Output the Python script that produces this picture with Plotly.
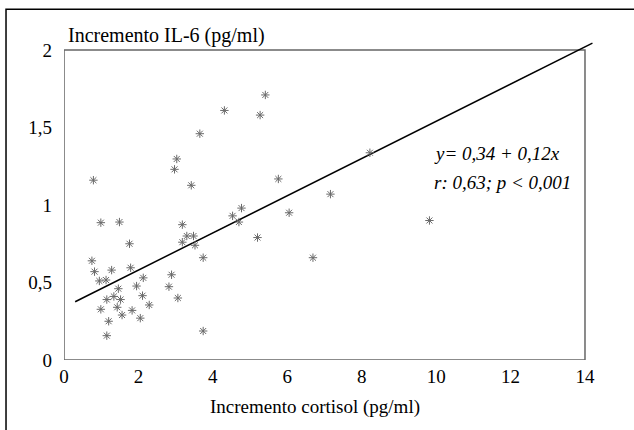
import plotly.graph_objects as go

cortisol = [0.79, 0.99, 1.49, 3.18, 3.30, 3.48, 3.18, 3.52, 1.76, 3.74,
            0.75, 0.82, 1.28, 1.79, 0.95, 1.13, 2.13, 2.89, 1.46, 1.95,
            2.82, 1.15, 1.34, 1.52, 2.11, 3.06, 2.29, 0.99, 1.43, 1.56,
            1.83, 2.05, 1.20, 1.15, 3.74, 5.41, 4.31, 5.27, 3.65, 3.03,
            2.97, 3.42, 5.76, 7.16, 4.77, 4.53, 4.70, 6.05, 5.20, 6.69,
            8.22, 9.82]
il6 = [1.16, 0.886, 0.89, 0.873, 0.80, 0.80, 0.76, 0.74, 0.75, 0.66,
       0.64, 0.57, 0.58, 0.595, 0.51, 0.516, 0.53, 0.55, 0.46, 0.477,
       0.473, 0.39, 0.41, 0.39, 0.415, 0.40, 0.355, 0.327, 0.34, 0.29,
       0.32, 0.27, 0.25, 0.157, 0.187, 1.71, 1.61, 1.58, 1.46, 1.297,
       1.23, 1.127, 1.168, 1.07, 0.98, 0.93, 0.89, 0.95, 0.79, 0.66,
       1.337, 0.90]

intercept = 0.34
slope = 0.12
line_x = [0.3, 14.2]
line_y = [intercept + slope * v for v in line_x]

x_ticks = [0, 2, 4, 6, 8, 10, 12, 14]
y_ticks = [0, 0.5, 1, 1.5, 2]
y_ticktext = ["0", "0,5", "1", "1,5", "2"]

FONT = "Liberation Serif"
FS = 19

fig = go.Figure()
fig.add_trace(go.Scatter(x=line_x, y=line_y, mode="lines",
                         line=dict(color="black", width=1.5), hoverinfo="skip"))
fig.add_trace(go.Scatter(x=cortisol, y=il6, mode="markers",
                         marker=dict(symbol="asterisk-open", size=7, color="#6a6a6a",
                                     line=dict(color="#6a6a6a", width=1)),
                         cliponaxis=False))

fig.update_layout(
    width=634, height=430,
    margin=dict(l=64, r=40, t=41, b=70),
    paper_bgcolor="white", plot_bgcolor="white",
    showlegend=False,
    font=dict(family=FONT, size=FS, color="black"),
    xaxis=dict(range=[0, 14.242], tickvals=x_ticks, showgrid=False, zeroline=False,
               showline=False, ticks="", ticklabelstandoff=3,
               tickfont=dict(family=FONT, size=FS)),
    yaxis=dict(range=[0, 2.058], tickvals=y_ticks, ticktext=y_ticktext,
               showgrid=False, zeroline=False, showline=False, ticks="",
               ticklabelstandoff=11, tickfont=dict(family=FONT, size=FS)),
    shapes=[
        dict(type="rect", xref="x", yref="y", x0=0, y0=0, x1=14, y1=2,
             line=dict(color="#666666", width=1.5), layer="below"),
        dict(type="rect", xref="paper", yref="paper", x0=-0.1094, y0=-1,
             x1=1.5, y1=1.0997, line=dict(color="black", width=1.5)),
    ],
    annotations=[
        dict(text="Incremento IL-6 (pg/ml)", xref="paper", yref="paper",
             x=0.0038, y=1.0188, xanchor="left", yanchor="middle",
             showarrow=False, font=dict(family=FONT, size=20)),
        dict(text="Incremento cortisol (pg/ml)", xref="paper", yref="paper",
             x=0.4736, y=-0.1473, xanchor="center", yanchor="middle",
             showarrow=False, font=dict(family=FONT, size=FS)),
        dict(text="<i>y= 0,34 + 0,12x</i>", xref="x", yref="y",
             x=9.89, y=1.335, xanchor="left", yanchor="middle",
             showarrow=False, font=dict(family=FONT, size=FS)),
        dict(text="<i>r: 0,63; p &lt; 0,001</i>", xref="x", yref="y",
             x=9.89, y=1.142, xanchor="left", yanchor="middle",
             showarrow=False, font=dict(family=FONT, size=FS)),
    ],
)

fig.write_html("out.html", config={"displayModeBar": False},
               post_script="document.body.style.margin='0';document.body.style.overflow='hidden';")
